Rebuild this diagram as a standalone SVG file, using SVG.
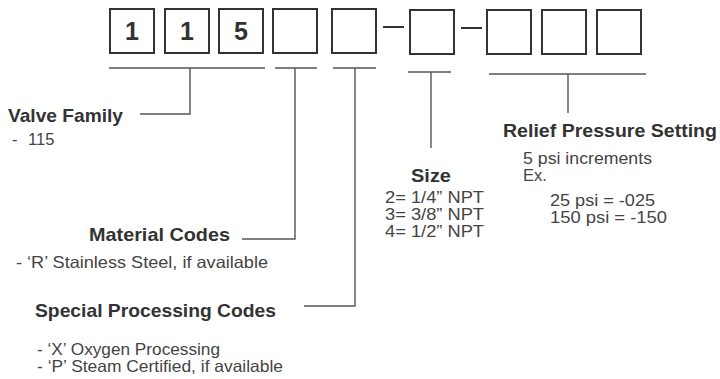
<svg xmlns="http://www.w3.org/2000/svg" width="720" height="379" viewBox="0 0 720 379">
<style>
.box{fill:#fff;stroke:#333;stroke-width:2}
.digit{font-family:"Liberation Sans",Arial,sans-serif;font-weight:bold;font-size:25px;fill:#333;text-anchor:middle}
.dash{stroke:#333;stroke-width:2}
.con{fill:none;stroke:#555;stroke-width:1.4}
.h{font-family:"Liberation Sans",Arial,sans-serif;font-weight:bold;font-size:19px;fill:#333}
.t{font-family:"Liberation Sans",Arial,sans-serif;font-size:16.5px;fill:#444}
</style>
<rect width="720" height="379" fill="#fff"/>
<g id="code-boxes">
<rect class="box" x="110" y="9" width="44" height="44"/>
<rect class="box" x="165" y="9" width="44" height="44"/>
<rect class="box" x="219" y="9" width="44" height="44"/>
<rect class="box" x="273" y="9" width="44" height="44"/>
<rect class="box" x="332" y="9" width="44" height="44"/>
<rect class="box" x="410" y="10" width="44" height="44"/>
<rect class="box" x="487" y="10" width="44" height="44"/>
<rect class="box" x="542" y="10" width="44" height="44"/>
<rect class="box" x="597" y="10" width="44" height="44"/>
<text class="digit" x="132" y="40">1</text>
<text class="digit" x="187" y="40">1</text>
<text class="digit" x="241" y="40">5</text>
<line class="dash" x1="383" y1="27" x2="404" y2="27"/>
<line class="dash" x1="461" y1="28" x2="482" y2="28"/>
</g>
<g id="connectors">
<polyline class="con" points="109,68 265,68"/>
<polyline class="con" points="190,68 190,114 140,114"/>
<polyline class="con" points="275,68 317,68"/>
<polyline class="con" points="295,68 295,239 242,239"/>
<polyline class="con" points="333,68 376,68"/>
<polyline class="con" points="355,68 355,306 304,306"/>
<polyline class="con" points="408,72 451,72"/>
<polyline class="con" points="431,72 431,148"/>
<polyline class="con" points="489,74 646,74"/>
<polyline class="con" points="568,74 568,113"/>
</g>
<g id="valve-family">
<text class="h" x="8" y="122" textLength="115" lengthAdjust="spacingAndGlyphs">Valve Family</text>
<text class="t" y="145"><tspan x="12">-</tspan><tspan x="28">115</tspan></text>
</g>
<g id="material-codes">
<text class="h" x="89" y="241" textLength="141" lengthAdjust="spacingAndGlyphs">Material Codes</text>
<text class="t" x="16" y="268" textLength="252" lengthAdjust="spacingAndGlyphs">-  ‘R’ Stainless Steel, if available</text>
</g>
<g id="special-processing">
<text class="h" x="35" y="317" textLength="241" lengthAdjust="spacingAndGlyphs">Special Processing Codes</text>
<text class="t" x="37" y="355" textLength="183" lengthAdjust="spacingAndGlyphs">-  ‘X’ Oxygen Processing</text>
<text class="t" x="37" y="372" textLength="246" lengthAdjust="spacingAndGlyphs">- ‘P’  Steam Certified, if available</text>
</g>
<g id="size">
<text class="h" x="411" y="182" textLength="40" lengthAdjust="spacingAndGlyphs">Size</text>
<text class="t" x="385" y="203" textLength="99" lengthAdjust="spacingAndGlyphs">2= 1/4” NPT</text>
<text class="t" x="385" y="220" textLength="99" lengthAdjust="spacingAndGlyphs">3= 3/8” NPT</text>
<text class="t" x="385" y="237" textLength="99" lengthAdjust="spacingAndGlyphs">4= 1/2” NPT</text>
</g>
<g id="relief-pressure">
<text class="h" x="503" y="137" textLength="214" lengthAdjust="spacingAndGlyphs">Relief Pressure Setting</text>
<text class="t" x="523" y="164" textLength="129" lengthAdjust="spacingAndGlyphs">5 psi increments</text>
<text class="t" x="523" y="181">Ex.</text>
<text class="t" x="550" y="206" textLength="105" lengthAdjust="spacingAndGlyphs">25 psi = -025</text>
<text class="t" x="550" y="223" textLength="117" lengthAdjust="spacingAndGlyphs">150 psi = -150</text>
</g>
</svg>
